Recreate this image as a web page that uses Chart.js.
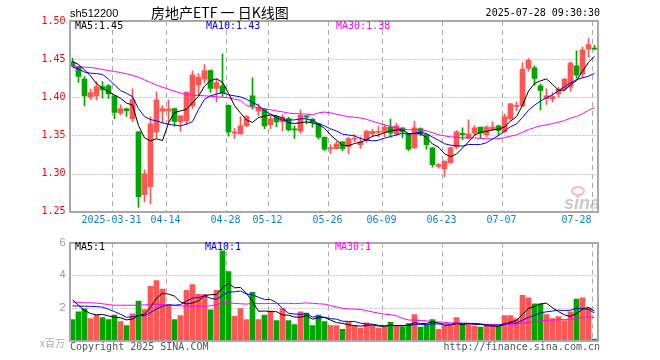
<!DOCTYPE html>
<html>
<head>
<meta charset="utf-8">
<script src="https://cdn.jsdelivr.net/npm/chart.js@4.4.1/dist/chart.umd.min.js"></script>
<style>
  body { margin: 0; background: #fff; width: 660px; height: 360px; position: relative; overflow: hidden; }
  canvas { position: absolute; left: 0; }
  .t { position: absolute; white-space: nowrap; font: 10px 'DejaVu Sans Mono', monospace; line-height: 12px; }
</style>
</head>
<body>
<canvas id="kline" width="660" height="232" style="top:0"></canvas>
<canvas id="vol" width="660" height="128" style="top:232px"></canvas>

<div class="t" style="left:70px;top:7px;font:11px 'Liberation Sans',sans-serif;">sh512200</div>
<div class="t" style="left:151px;top:4px;font:14px 'Noto Sans CJK SC',sans-serif;line-height:17px;">房地产ETF 一 日K线图</div>
<div class="t" style="right:60px;top:7px;">2025-07-28 09:30:30</div>

<div class="t" style="left:75px;top:20px;color:#000;">MA5:1.45</div>
<div class="t" style="left:206px;top:20px;color:#0000ff;">MA10:1.43</div>
<div class="t" style="left:336px;top:20px;color:#ff00ff;">MA30:1.38</div>

<div class="t" style="left:75px;top:241px;color:#000;">MA5:1</div>
<div class="t" style="left:205px;top:241px;color:#0000ff;">MA10:1</div>
<div class="t" style="left:335px;top:241px;color:#ff00ff;">MA30:1</div>

<div class="t" style="left:40px;top:335px;color:#aaa;font:10px 'Noto Sans CJK SC',sans-serif;">x百万</div>
<div class="t" style="left:70px;top:341px;color:#555;">Copyright 2025 SINA.COM</div>
<div class="t" style="right:60px;top:341px;color:#555;">http://finance.sina.com.cn</div>

<script>
// --- 데이터 (2025, 일봉) ---
const days = [
  '03-20','03-21','03-24','03-25','03-26','03-27','03-28','03-31',
  '04-01','04-02','04-03','04-07','04-08','04-09','04-10','04-11','04-14',
  '04-15','04-16','04-17','04-18','04-21','04-22','04-23','04-24','04-25','04-28',
  '04-29','04-30','05-06','05-07','05-08','05-09','05-12',
  '05-13','05-14','05-15','05-16','05-19','05-20','05-21','05-22','05-23','05-26',
  '05-27','05-28','05-29','05-30','06-03','06-04','06-05','06-06','06-09',
  '06-10','06-11','06-12','06-13','06-16','06-17','06-18','06-19','06-20','06-23',
  '06-24','06-25','06-26','06-27','06-30','07-01','07-02','07-03','07-04','07-07',
  '07-08','07-09','07-10','07-11','07-14','07-15','07-16','07-17','07-18','07-21',
  '07-22','07-23','07-24','07-25','07-28'
];
const tickDays = ['03-31','04-14','04-28','05-12','05-26','06-09','06-23','07-07','07-28'];
const tickText = ['2025-03-31','04-14','04-28','05-12','05-26','06-09','06-23','07-07','07-28'];

const open = [
  1.446,1.4404,1.4238,1.400,1.4019,1.414,1.415,1.4019,1.3791,1.385,
  1.372,1.3546,1.2724,1.2829,1.3546,1.3818,1.382,1.3853,1.3677,1.369,
  1.3887,1.416,1.4238,1.4351,1.4115,1.415,1.3896,1.353,1.352,1.3625,
  1.4019,1.3818,1.3844,1.3642,1.3747,1.3678,1.3721,1.3578,1.3555,1.3756,
  1.3713,1.3651,1.3476,1.3326,1.3327,1.3415,1.3354,1.345,1.338,1.3433,
  1.352,1.354,1.3546,1.3608,1.352,1.3599,1.352,1.3336,1.359,1.3511,
  1.3336,1.3092,1.3065,1.3144,1.3345,1.3529,1.3467,1.3529,1.3608,1.3511,
  1.3581,1.3625,1.3546,1.3721,1.388,1.3887,1.4378,1.4386,1.415,1.3983,
  1.3983,1.4045,1.4106,1.4132,1.4413,1.4308,1.4631,1.4640
];
const high = [
  1.451,1.441,1.427,1.4106,1.4206,1.4206,1.4165,1.402,1.390,1.386,
  1.411,1.355,1.305,1.3747,1.4071,1.389,1.3966,1.386,1.376,1.407,
  1.4347,1.431,1.443,1.436,1.4238,1.457,1.390,1.359,1.3747,1.3765,
  1.4255,1.3913,1.386,1.3765,1.3756,1.3774,1.374,1.3625,1.3835,1.3765,
  1.3721,1.366,1.348,1.338,1.3424,1.342,1.3476,1.351,1.348,1.357,
  1.358,1.3616,1.3642,1.3713,1.366,1.360,1.352,1.3686,1.360,1.352,
  1.334,1.313,1.317,1.335,1.3564,1.3599,1.3704,1.3625,1.361,1.3625,
  1.3678,1.3634,1.3783,1.392,1.3939,1.4456,1.4509,1.4413,1.4176,1.4115,
  1.4063,1.4132,1.4246,1.4465,1.4609,1.4657,1.4771,1.468
];
const low = [
  1.440,1.4194,1.3888,1.3966,1.3966,1.3988,1.3984,1.372,1.377,1.3748,
  1.368,1.2558,1.2627,1.2603,1.346,1.366,1.368,1.362,1.3555,1.364,
  1.385,1.403,1.419,1.4063,1.394,1.401,1.349,1.346,1.3517,1.361,
  1.3844,1.3756,1.359,1.359,1.3616,1.3555,1.356,1.346,1.353,1.365,
  1.3608,1.345,1.330,1.3258,1.3323,1.330,1.3258,1.3415,1.333,1.3407,
  1.3485,1.3485,1.3485,1.3476,1.3494,1.3467,1.330,1.3328,1.3494,1.3319,
  1.3083,1.307,1.2956,1.313,1.3327,1.344,1.3459,1.350,1.3459,1.348,
  1.3564,1.350,1.354,1.370,1.3826,1.388,1.4343,1.4159,1.3835,1.3905,
  1.3936,1.400,1.408,1.408,1.425,1.426,1.4526,1.4622
];
const close = [
  1.441,1.4273,1.4019,1.4063,1.4141,1.4097,1.4045,1.380,1.3852,1.3826,
  1.397,1.2698,1.2996,1.3651,1.3966,1.3852,1.385,1.3682,1.3756,1.4067,
  1.4294,1.4264,1.4351,1.4115,1.4194,1.4054,1.3546,1.3546,1.3625,1.3747,
  1.3887,1.387,1.3625,1.3721,1.3678,1.3739,1.3573,1.3573,1.3765,1.3739,
  1.3669,1.3476,1.3319,1.3336,1.3389,1.3327,1.3459,1.346,1.3415,1.3555,
  1.3555,1.3546,1.3608,1.3529,1.3625,1.3546,1.3319,1.3599,1.352,1.338,
  1.3118,1.3118,1.3161,1.3336,1.3546,1.3511,1.352,1.3599,1.3529,1.3608,
  1.3608,1.3564,1.3747,1.3914,1.389,1.4369,1.4483,1.4246,1.4089,1.4019,
  1.401,1.4106,1.4238,1.4448,1.429,1.4622,1.4692,1.4631
];
// 거래량 (백만)
const volume = [
  1.29,1.77,1.95,1.35,1.57,1.41,1.29,1.57,1.17,0.93,
  1.65,2.42,1.90,3.32,3.68,3.16,2.19,1.29,1.53,3.08,
  3.44,2.84,2.84,1.89,3.08,5.50,4.23,1.49,1.97,1.29,
  2.96,1.29,1.57,1.81,1.23,1.97,1.23,0.99,1.77,1.69,
  0.93,1.57,1.17,0.93,0.93,0.70,1.13,0.93,0.77,1.09,
  0.93,0.77,0.85,1.13,0.93,0.85,1.05,1.59,0.83,0.99,
  1.29,0.70,0.89,0.93,1.41,0.99,0.99,0.89,0.83,0.89,
  0.89,0.89,1.53,1.53,1.35,2.78,2.62,2.25,2.25,1.59,
  1.35,1.47,1.23,1.77,2.54,2.62,2.01,0.10
];

// 이동평균 앞부분: 창이 다 차기 전 값은 그림에서 읽음 (이전 거래일은 화면 밖)
const ma5Head = [1.447,1.443,1.436,1.428];
const ma10Head = [1.4395,1.437,1.433,1.4316,1.431,1.430,1.4238,1.4163,1.4088];
const ma30Head = [
  1.4404,1.440,1.4395,1.439,1.438,1.4364,1.435,1.4338,1.4325,1.4308,
  1.429,1.4264,1.4229,1.4194,1.416,1.4133,1.4106,1.408,1.4054,1.4036,
  1.4027,1.4023,1.4019,1.4014,1.4005,1.400,1.3993,1.3975,1.3958
];
const volMa5Head = [2.50,2.17,1.85,1.66];
const volMa10Head = [2.13,2.12,2.11,2.10,2.09,2.05,1.92,1.78,1.62];
const volMa30Head = [
  2.36,2.34,2.32,2.32,2.30,2.26,2.21,2.17,2.17,2.17,
  2.17,2.17,2.19,2.21,2.23,2.21,2.17,2.15,2.13,2.11,
  2.11,2.11,2.11,2.13,2.21,2.32,2.32,2.28,2.26
];

const RED = '#ff5555';
const GREEN = '#00a600';

// 이동평균 계산
function movingAvg(values, n, head) {
    return values.map((v, i) => {
        if (i < n - 1) return head[i];
        let s = 0;
        for (let k = i - n + 1; k <= i; k++) s += values[k];
        return s / n;
    });
}

const candleColors = open.map((o, i) => close[i] >= o ? RED : GREEN);
const tickIdx = tickDays.map(d => days.indexOf(d));

// 테두리, 격자, 워터마크
const panelDeco = {
    id: 'panelDeco',
    beforeDatasetsDraw(chart, args, opts) {
        const { ctx, chartArea: a, scales: { x, y } } = chart;
        const slot = x.getPixelForValue(1) - x.getPixelForValue(0);
        ctx.save();
        ctx.lineWidth = 1;
        ctx.strokeStyle = '#999';
        ctx.setLineDash([1, 2]);
        y.ticks.forEach(t => {
            if (t.value <= y.min || t.value >= y.max) return;
            const py = Math.round(y.getPixelForValue(t.value)) + 0.5;
            ctx.beginPath(); ctx.moveTo(a.left, py); ctx.lineTo(a.right, py); ctx.stroke();
        });
        ctx.strokeStyle = '#aaa';
        ctx.setLineDash([5, 4]);
        tickIdx.forEach(i => {
            const px = Math.round(x.getPixelForValue(i) - slot / 2) + 0.5;
            ctx.beginPath(); ctx.moveTo(px, a.top); ctx.lineTo(px, a.bottom); ctx.stroke();
        });
        if (opts.logo) {
            ctx.setLineDash([]);
            ctx.strokeStyle = 'rgba(240,140,140,0.6)';
            ctx.lineWidth = 2;
            ctx.beginPath(); ctx.ellipse(578, 191, 6, 4, 0, 0, Math.PI * 2); ctx.stroke();
            ctx.fillStyle = 'rgba(150,150,150,0.5)';
            ctx.font = 'italic bold 18px "Liberation Sans", sans-serif';
            ctx.fillText('sina', 564, 209);
        }
        ctx.restore();
    },
    afterDatasetsDraw(chart) {
        const { ctx, chartArea: a } = chart;
        ctx.save();
        ctx.strokeStyle = '#a8a8a8';
        ctx.lineWidth = 2;
        ctx.strokeRect(Math.round(a.left), Math.round(a.top), Math.round(a.right) - Math.round(a.left), Math.round(a.bottom) - Math.round(a.top));
        ctx.restore();
    }
};

function maLine(data, color) {
    return { type: 'line', data, borderColor: color, borderWidth: 1, pointRadius: 0, tension: 0, order: 0 };
}

const common = {
    responsive: false,
    animation: false,
    events: [],
    plugins: { legend: { display: false }, tooltip: { enabled: false } }
};

// --- K선 차트 ---
new Chart(document.getElementById('kline'), {
    type: 'bar',
    data: {
        labels: days,
        datasets: [
            maLine(movingAvg(close, 5, ma5Head), '#000'),
            maLine(movingAvg(close, 10, ma10Head), '#0000ff'),
            maLine(movingAvg(close, 30, ma30Head), '#ff00ff'),
            {
                data: open.map((o, i) => [o, close[i]]),
                backgroundColor: candleColors,
                barThickness: 5, minBarLength: 1, grouped: false, order: 1
            },
            {
                data: low.map((l, i) => [l, high[i]]),
                backgroundColor: candleColors,
                barThickness: 1, grouped: false, order: 2
            }
        ]
    },
    options: {
        ...common,
        layout: { padding: { top: 21, right: 62.5, left: 0, bottom: 0 } },
        plugins: { ...common.plugins, panelDeco: { logo: true } },
        scales: {
            x: {
                grid: { display: false, drawTicks: false },
                border: { display: false },
                afterFit: s => { s.height = 20.3; },
                ticks: {
                    autoSkip: false, maxRotation: 0, padding: 3, align: 'inner', labelOffset: -3,
                    color: '#0a84d0',
                    font: { family: 'DejaVu Sans Mono', size: 10 },
                    callback: (v, i) => {
                        const k = tickDays.indexOf(days[i]);
                        return k >= 0 ? tickText[k] : '';
                    }
                }
            },
            y: {
                min: 1.25, max: 1.5,
                grid: { display: false, drawTicks: false },
                border: { display: false },
                afterFit: s => { s.width = 69.5; },
                ticks: {
                    stepSize: 0.05, padding: 4, color: '#ff0000',
                    font: { family: 'DejaVu Sans Mono', size: 10 },
                    callback: v => v.toFixed(2)
                }
            }
        }
    },
    plugins: [panelDeco]
});

// --- 거래량 차트 ---
new Chart(document.getElementById('vol'), {
    type: 'bar',
    data: {
        labels: days,
        datasets: [
            maLine(movingAvg(volume, 5, volMa5Head), '#000'),
            maLine(movingAvg(volume, 10, volMa10Head), '#0000ff'),
            maLine(movingAvg(volume, 30, volMa30Head), '#ff00ff'),
            { data: volume, backgroundColor: candleColors, barThickness: 5, grouped: false, order: 1 }
        ]
    },
    options: {
        ...common,
        layout: { padding: { top: 8, right: 62.5, left: 0, bottom: 19.3 } },
        plugins: { ...common.plugins, panelDeco: { logo: false } },
        scales: {
            x: { display: false },
            y: {
                min: 0, max: 6,
                grid: { display: false, drawTicks: false },
                border: { display: false },
                afterFit: s => { s.width = 69.5; },
                ticks: {
                    stepSize: 2, padding: 4, color: '#999',
                    font: { family: 'Liberation Sans', size: 11 },
                    callback: v => v === 0 ? '' : v
                }
            }
        }
    },
    plugins: [panelDeco]
});
</script>
</body>
</html>
